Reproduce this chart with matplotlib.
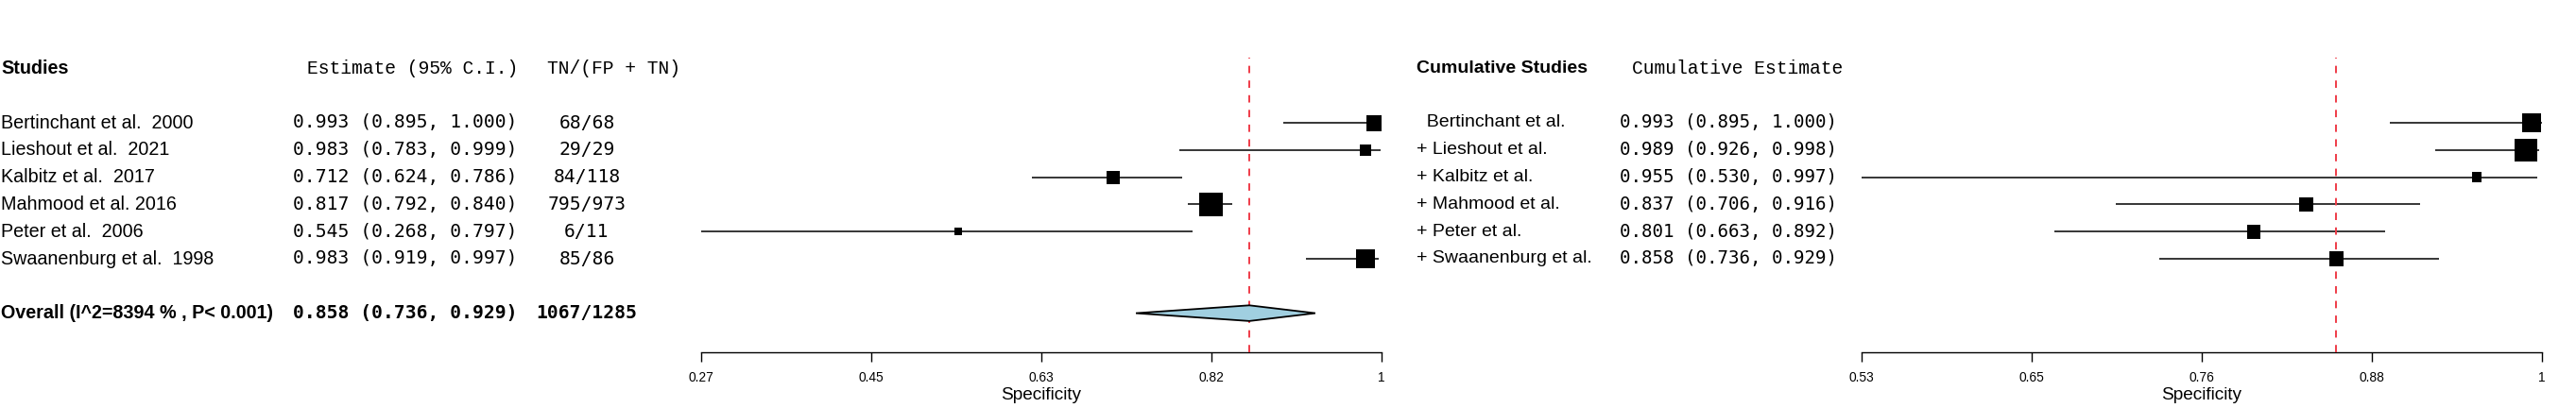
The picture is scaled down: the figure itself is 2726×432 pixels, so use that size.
import numpy as np
import matplotlib
matplotlib.use("Agg")
import matplotlib.pyplot as plt
from matplotlib.transforms import blended_transform_factory

# per-study results
studies = ["Bertinchant et al.  2000", "Lieshout et al.  2021", "Kalbitz et al.  2017",
           "Mahmood et al. 2016", "Peter et al.  2006", "Swaanenburg et al.  1998"]
est = [0.993, 0.983, 0.712, 0.817, 0.545, 0.983]
lo = [0.895, 0.783, 0.624, 0.792, 0.268, 0.919]
hi = [1.000, 0.999, 0.786, 0.840, 0.797, 0.997]
tn = [68, 29, 84, 795, 6, 85]
fp_tn = [68, 29, 118, 973, 11, 86]

# pooled
overall_est, overall_lo, overall_hi = 0.858, 0.736, 0.929
overall_label = "Overall (I^2=8394 % , P< 0.001)"

# cumulative
cum_studies = ["  Bertinchant et al.", "+ Lieshout et al.", "+ Kalbitz et al.",
               "+ Mahmood et al.", "+ Peter et al.", "+ Swaanenburg et al."]
cum_est = [0.993, 0.989, 0.955, 0.837, 0.801, 0.858]
cum_lo = [0.895, 0.926, 0.530, 0.706, 0.663, 0.736]
cum_hi = [1.000, 0.998, 0.997, 0.916, 0.892, 0.929]

left_ticklabels = ["0.27", "0.45", "0.63", "0.82", "1"]
right_ticklabels = ["0.53", "0.65", "0.76", "0.88", "1"]

# box sizes in pixels (style)
box_px = [17, 12.5, 14, 24.6, 8, 19.5]
cum_box_px = [20, 24.5, 10.5, 15, 14.8, 15.5]

W, H = 2726, 432
ROW0, ROWH = 130, 28.8      # pixel y of first row, row spacing
AX_BOTTOM, AX_TOP = 373.3, 61

SANS = "Liberation Sans"
MONO_HEAD = "Liberation Mono"
MONO = "DejaVu Sans Mono"
RED = "#EF3B47"

fig = plt.figure(figsize=(W / 100, H / 100), dpi=100)


def make_axes(x0, x1):
    ax = fig.add_axes([x0 / W, 1 - AX_BOTTOM / H, (x1 - x0) / W, (AX_BOTTOM - AX_TOP) / H])
    ax.set_ylim((AX_BOTTOM - ROW0) / ROWH, (AX_TOP - ROW0) / ROWH)
    for s in ["top", "left", "right"]:
        ax.spines[s].set_visible(False)
    ax.spines["bottom"].set_linewidth(1.0)
    ax.set_yticks([])
    ax.patch.set_alpha(0)
    return ax


def draw_forest(ax, e, l, h, sizes, ticklabels, ref):
    rows = np.arange(len(e))
    ax.set_xlim(min(l), max(h))
    ax.hlines(rows, l, h, color="black", lw=1.1, zorder=2)
    ax.axvline(ref, color=RED, lw=1.4, linestyle=(0, (4, 4)), zorder=3)
    ax.scatter(e, rows, s=(np.array(sizes) * 0.72) ** 2, marker="s", c="black",
               linewidths=0, zorder=5)
    ax.set_xticks(np.linspace(min(l), max(h), len(ticklabels)))
    ax.set_xticklabels(ticklabels, fontfamily=SANS, fontsize=9.9)
    ax.tick_params(axis="x", direction="out", length=7.2, width=1.0, pad=7)
    ax.set_xlabel("Specificity", fontfamily=SANS, fontsize=13.7, labelpad=2)


# left panel
ax1 = make_axes(741.8, 1461.7)
draw_forest(ax1, est, lo, hi, box_px, left_ticklabels, overall_est)
dy = 8.3 / ROWH
orow = len(est) + 1
ax1.fill([overall_lo, overall_est, overall_hi, overall_est],
         [orow, orow - dy, orow, orow + dy],
         facecolor="#A0CFE0", edgecolor="black", lw=1.3, zorder=4)

# right panel
ax2 = make_axes(1969.8, 2689.9)
draw_forest(ax2, cum_est, cum_lo, cum_hi, cum_box_px, right_ticklabels, overall_est)

# text columns
t1 = blended_transform_factory(fig.transFigure, ax1.transData)
t2 = blended_transform_factory(fig.transFigure, ax2.transData)


def put(tr, xpx, y, s, **kw):
    fig.text(xpx / W, y, s, transform=tr, va="center", **kw)


put(t1, 1, -2, "Studies", family=SANS, fontsize=14.2, fontweight="bold")
put(t1, 548, -2, "Estimate (95% C.I.)", family=MONO_HEAD, fontsize=14.1, ha="right")
put(t1, 579, -2, "TN/(FP + TN)", family=MONO_HEAD, fontsize=14.1, ha="left")
for i in range(len(studies)):
    put(t1, 1, i, studies[i], family=SANS, fontsize=14.2)
    put(t1, 548, i, f"{est[i]:.3f} ({lo[i]:.3f}, {hi[i]:.3f})", family=MONO,
        fontsize=14.1, ha="right")
    put(t1, 621, i, f"{tn[i]}/{fp_tn[i]}", family=MONO, fontsize=14.1, ha="center")

put(t1, 1, orow, overall_label, family=SANS, fontsize=14.2, fontweight="bold")
put(t1, 548, orow, f"{overall_est:.3f} ({overall_lo:.3f}, {overall_hi:.3f})",
    family=MONO, fontsize=14.1, fontweight="bold", ha="right")
put(t1, 621, orow, f"{sum(tn)}/{sum(fp_tn)}", family=MONO, fontsize=14.1,
    fontweight="bold", ha="center")

put(t2, 1499, -2, "Cumulative Studies", family=SANS, fontsize=14.0, fontweight="bold")
put(t2, 1950, -2, "Cumulative Estimate", family=MONO_HEAD, fontsize=14.1, ha="right")
for i in range(len(cum_studies)):
    put(t2, 1499, i, cum_studies[i], family=SANS, fontsize=14.0)
    put(t2, 1944, i, f"{cum_est[i]:.3f} ({cum_lo[i]:.3f}, {cum_hi[i]:.3f})",
        family=MONO, fontsize=13.8, ha="right")

fig.savefig("out.png", dpi=100, facecolor="white")
